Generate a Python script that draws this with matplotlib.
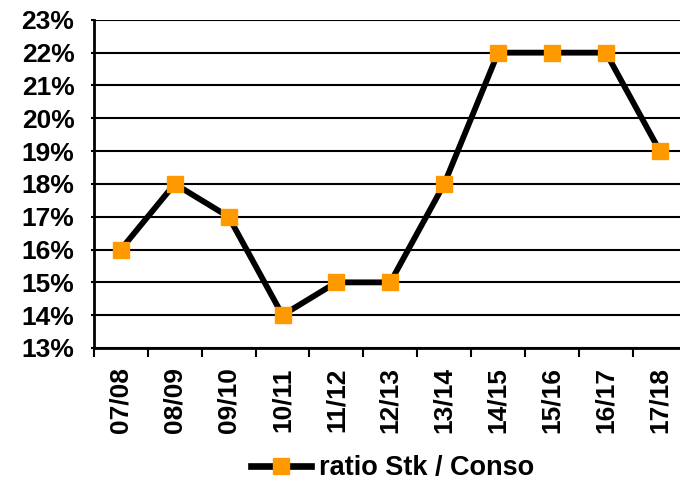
import matplotlib
matplotlib.use("Agg")
import matplotlib.pyplot as plt
from matplotlib.ticker import FixedLocator, FuncFormatter

categories = ["07/08", "08/09", "09/10", "10/11", "11/12", "12/13",
              "13/14", "14/15", "15/16", "16/17", "17/18"]
ratio = [16, 18, 17, 14, 15, 15, 18, 22, 22, 22, 19]

plt.rcParams['font.family'] = ['Liberation Sans', 'DejaVu Sans']
plt.rcParams['font.weight'] = 'bold'

fig = plt.figure(figsize=(6.8, 4.84), dpi=100)
ax = fig.add_axes([0.138, 0.281, 0.872, 0.678])

x = list(range(len(categories)))
ax.plot(x, ratio, color='black', linewidth=4.2, marker='s', markersize=12,
        markerfacecolor='#FF9900', markeredgecolor='#FF9900',
        label='ratio Stk / Conso', zorder=3)

ax.set_xlim(-0.5, len(categories) - 0.5)
ax.set_ylim(13, 23)
ax.yaxis.set_major_locator(FixedLocator(range(13, 24)))
ax.yaxis.set_major_formatter(FuncFormatter(lambda v, p: f"{int(v)}%"))
ax.grid(axis='y', color='black', linewidth=1.5)
ax.set_axisbelow(True)

ax.set_xticks([i - 0.5 for i in range(len(categories) + 1)])
ax.set_xticklabels([])
ax.set_xticks(x, minor=True)
ax.set_xticklabels(categories, minor=True, rotation=90, fontsize=19, fontweight='bold')
ax.tick_params(axis='x', which='major', length=6.5, width=1.5, direction='out')
ax.tick_params(axis='x', which='minor', length=0, pad=14)
ax.tick_params(axis='y', length=2, width=1.5, labelsize=19, pad=12)
for lab in ax.get_yticklabels():
    lab.set_fontweight('bold')

for s in ['top', 'right']:
    ax.spines[s].set_visible(False)
ax.spines['left'].set_linewidth(2)
ax.spines['bottom'].set_linewidth(2)

leg = fig.legend(loc='lower center', bbox_to_anchor=(0.577, -0.045), frameon=False,
                 prop={'size': 19.5, 'weight': 'bold'}, handlelength=2.2, handletextpad=0.3)
for h in leg.get_lines():
    h.set_linewidth(4.8)

fig.savefig("out.png", dpi=100)
